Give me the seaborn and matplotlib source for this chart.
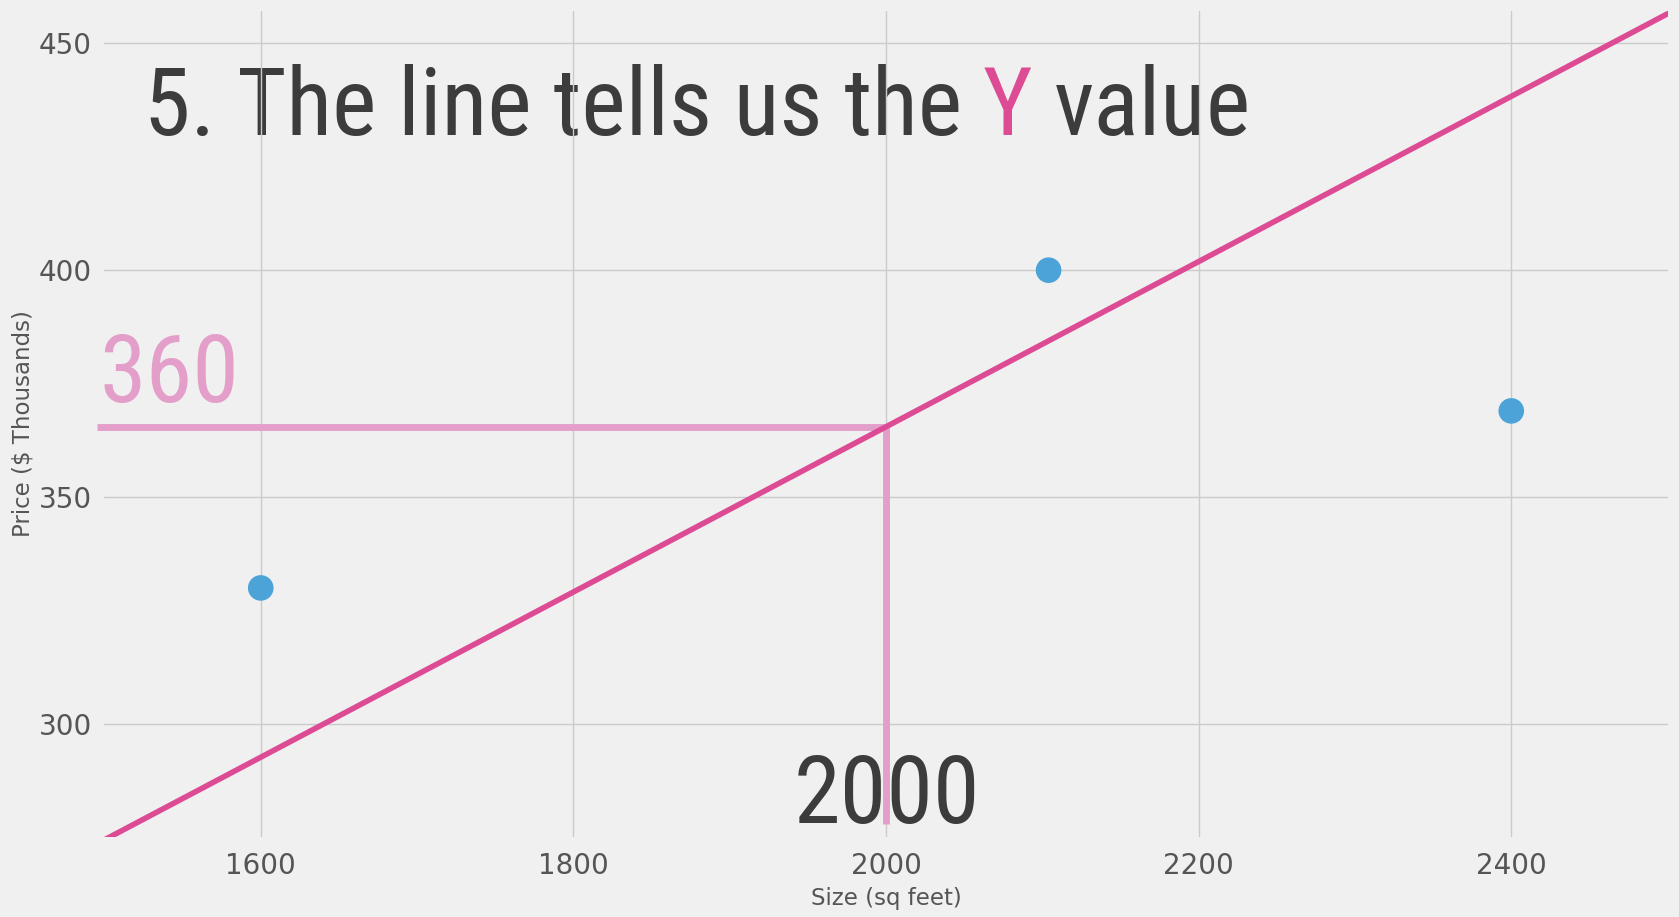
import numpy as np
import matplotlib
matplotlib.use('Agg')
import matplotlib.pyplot as plt
import matplotlib.font_manager as fm
import seaborn as sns
import pandas as pd

# data
size_sqft = [1600, 2104, 2400]
price_k = [330, 400, 369]
line_x = [1500, 2500]
slope = 0.182
intercept = 1.5
x_pick = 2000

tick_x = [1600, 1800, 2000, 2200, 2400]
tick_y = [300, 350, 400, 450]

title_a = '5. The line tells us the'
title_b = 'Y'
title_c = 'value'

pink = '#dc4b93'
light_pink = '#e39fca'
blue = '#4ba3d8'
dark = '#3c3c3c'

sns.set_theme(style='darkgrid', rc={
    'axes.facecolor': '#f0f0f0', 'figure.facecolor': '#f0f0f0',
    'grid.color': '#cbcbcb', 'grid.linewidth': 1.0,
})
plt.rcParams['font.family'] = ['DejaVu Sans']

fig = plt.figure(figsize=(16.79, 9.17), dpi=100)
ax = fig.add_axes([0.0622, 0.0876, 0.931, 0.9004])

# pick the sans font closest to the condensed face of the original
big = 68
renderer = fig.canvas.get_renderer()
keep = ('Liberation', 'DejaVu', 'Noto Sans', 'Roboto', 'Open Sans', 'Lato', 'Inter')
best = None
for f in fm.fontManager.ttflist:
    if 'CJK' in f.name or not f.name.startswith(keep) or 'Mono' in f.name or 'Serif' in f.name:
        continue
    if f.style != 'normal' or f.weight not in (400, 'normal', 'regular'):
        continue
    prop = fm.FontProperties(fname=f.fname, size=69)
    try:
        t = fig.text(0, 0, title_a + ' Y value', fontproperties=prop)
        w = t.get_window_extent(renderer).width
        t.remove()
    except Exception:
        continue
    score = abs(w - 1045)
    if best is None or score < best[0]:
        best = (score, f.fname)
title_font = fm.FontProperties(fname=best[1], size=big)

df_pts = pd.DataFrame({'size': size_sqft, 'price': price_k})
df_line = pd.DataFrame({'size': line_x, 'price': [slope * v + intercept for v in line_x]})
y_pick = slope * x_pick + intercept

sns.lineplot(data=df_line, x='size', y='price', color=pink, linewidth=4, ax=ax, zorder=3)
sns.scatterplot(data=df_pts, x='size', y='price', color=blue, s=340, edgecolor='none', ax=ax, zorder=4)

# guide lines at x = 2000
ax.plot([1495, x_pick], [y_pick, y_pick], color=light_pink, linewidth=5, solid_capstyle='butt',
        clip_on=False, zorder=2)
ax.plot([x_pick, x_pick], [278, y_pick], color=light_pink, linewidth=5, solid_capstyle='butt', zorder=2)

for s in ax.spines.values():
    s.set_visible(False)
ax.set_xlim(1500, 2500)
ax.set_ylim(275.2, 457.1)
ax.set_xticks(tick_x)
ax.set_yticks(tick_y)
ax.tick_params(axis='both', labelsize=20, labelcolor='#555555', length=0)
ax.tick_params(axis='x', pad=11)
ax.tick_params(axis='y', pad=9)
ax.set_xlabel('Size (sq feet)', fontsize=16.5, color='#555555', labelpad=5)
ax.set_ylabel('Price ($ Thousands)', fontsize=16.5, color='#555555', labelpad=3)

t1 = ax.text(0.025, 0.85, title_a, transform=ax.transAxes, fontproperties=title_font,
             color=dark, va='baseline', ha='left', zorder=0.3)
t2 = ax.annotate(title_b, xy=(1, 0), xycoords=t1, xytext=(15, 0), textcoords='offset points',
                 fontproperties=title_font, color=pink, va='bottom', ha='left', zorder=0.3)
ax.annotate(title_c, xy=(1, 0), xycoords=t2, xytext=(16, 0), textcoords='offset points',
            fontproperties=title_font, color=dark, va='bottom', ha='left', zorder=0.3)

ax.text(1497, 371, '360', fontproperties=title_font, color=light_pink, va='baseline', ha='left',
        zorder=0.3)
ax.text(1941, 278.3, '2000', fontproperties=title_font, color=dark, va='baseline', ha='left',
        zorder=0.3)

fig.savefig('out.png', dpi=100, facecolor=fig.get_facecolor())
